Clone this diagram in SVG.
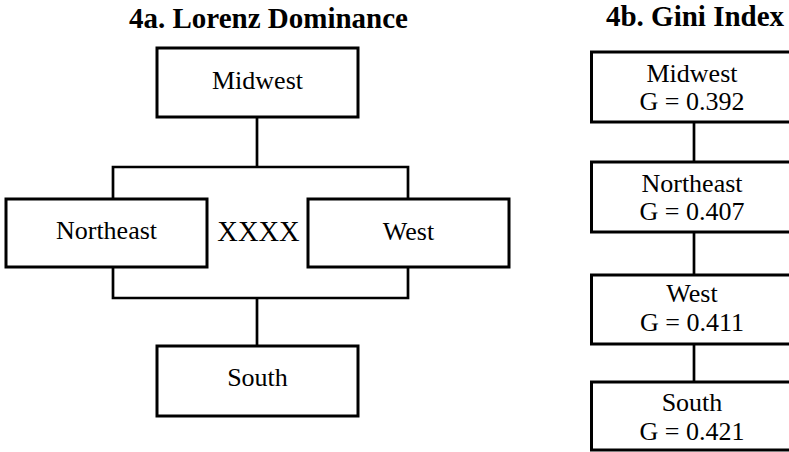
<svg xmlns="http://www.w3.org/2000/svg" width="789" height="452" viewBox="0 0 789 452">
<style>
.box{fill:#fff;stroke:#000;stroke-width:3}
.ln{fill:none;stroke:#000;stroke-width:2.7}
.t{font-family:"Liberation Serif","Times New Roman",serif;font-size:26px;fill:#000;text-anchor:middle}
.h{font-family:"Liberation Serif","Times New Roman",serif;font-size:29px;font-weight:bold;fill:#000;text-anchor:middle}
</style>
<rect width="789" height="452" fill="#fff"/>
<text class="h" x="268.5" y="28">4a. Lorenz Dominance</text>
<text class="h" x="695" y="26">4b. Gini Index</text>
<g id="connectors">
<path class="ln" d="M257 117V167M113 199V167H408V199M113 267V298H408V267M257 298V346"/>
<path class="ln" d="M694 122V162M694 232V275M694 344V382"/>
</g>
<g id="a-midwest"><rect class="box" x="157" y="48" width="201" height="69"/><text class="t" x="257.5" y="89">Midwest</text></g>
<g id="a-northeast"><rect class="box" x="6" y="199" width="201" height="68"/><text class="t" x="106.5" y="239">Northeast</text></g>
<g id="a-relation"><text class="t" x="258.5" y="241" style="font-size:28.5px">XXXX</text></g>
<g id="a-west"><rect class="box" x="308" y="199" width="201" height="68"/><text class="t" x="408.5" y="240">West</text></g>
<g id="a-south"><rect class="box" x="157" y="346" width="201" height="70"/><text class="t" x="257.5" y="386">South</text></g>
<g id="b-midwest"><rect class="box" x="591.5" y="52" width="202" height="70"/><text class="t" x="692" y="82">Midwest</text><text class="t" x="692" y="110">G = 0.392</text></g>
<g id="b-northeast"><rect class="box" x="591.5" y="162" width="202" height="70"/><text class="t" x="692" y="192">Northeast</text><text class="t" x="692" y="220">G = 0.407</text></g>
<g id="b-west"><rect class="box" x="591.5" y="275" width="202" height="69"/><text class="t" x="692" y="302">West</text><text class="t" x="692" y="331">G = 0.411</text></g>
<g id="b-south"><rect class="box" x="591.5" y="382" width="202" height="68"/><text class="t" x="692" y="411">South</text><text class="t" x="692" y="440">G = 0.421</text></g>
</svg>
